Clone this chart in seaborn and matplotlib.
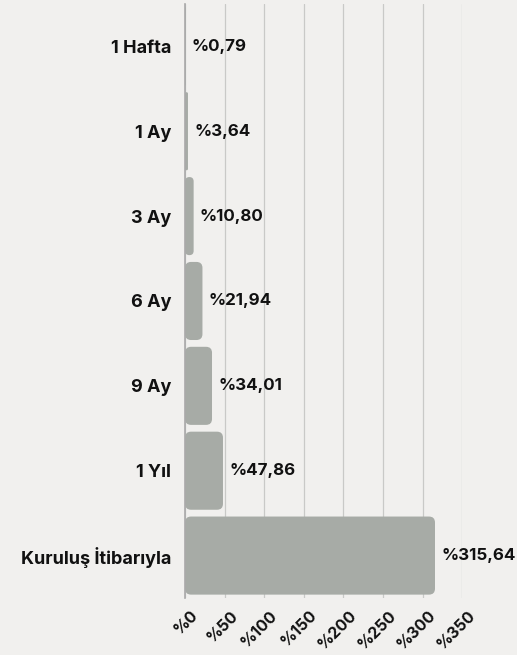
import numpy as np
import pandas as pd
import matplotlib
matplotlib.use("Agg")
import matplotlib.pyplot as plt
import matplotlib.transforms as mtransforms
import seaborn as sns
from matplotlib.patches import FancyBboxPatch

# --------------------------
# Data
# --------------------------
periods = ["1 Hafta", "1 Ay", "3 Ay", "6 Ay", "9 Ay", "1 Yıl", "Kuruluş İtibarıyla"]
returns = [0.79, 3.64, 10.80, 21.94, 34.01, 47.86, 315.64]
value_labels = ["%0,79", "%3,64", "%10,80", "%21,94", "%34,01", "%47,86", "%315,64"]
x_ticks = [0, 50, 100, 150, 200, 250, 300, 350]
x_tick_labels = ["%0", "%50", "%100", "%150", "%200", "%250", "%300", "%350"]

df = pd.DataFrame({"period": periods, "ret": returns})

bg = "#f1f0ee"
bar_color = "#a7aba6"

sns.set_theme(style="white")
plt.rcParams["font.family"] = ["Inter", "DejaVu Sans"]
plt.rcParams["font.weight"] = "bold"

fig = plt.figure(figsize=(5.17, 6.55), dpi=100, facecolor=bg)
ax = fig.add_axes([0.358, 0.087, 0.536, 0.907], facecolor=bg)

sns.barplot(data=df, x="ret", y="period", color=bar_color, width=0.92,
            saturation=1, ax=ax, zorder=2)

ax.set_xlim(0, 350)
ax.set_ylim(len(periods) - 0.5, -0.5)

# swap plain bars for rounded ones
# 1 x-unit ~ 0.79 px, 1 y-unit ~ 85 px
px_x = 0.536 * 517 / 350
px_y = 0.907 * 655 / len(periods)
aspect = px_x / px_y
for p in list(ax.patches):
    x0, y0 = p.get_x(), p.get_y()
    w, h = p.get_width(), p.get_height()
    r = min(6 / px_x, w / 2)
    fb = FancyBboxPatch((x0, y0), w, h,
                        boxstyle=f"round,pad=0,rounding_size={r}",
                        mutation_aspect=aspect,
                        facecolor=bar_color, edgecolor="none", zorder=2)
    p.remove()
    ax.add_patch(fb)

# value labels
for i, (v, lab) in enumerate(zip(returns, value_labels)):
    ax.annotate(lab, xy=(v, i), xytext=(4.5, 0), textcoords="offset points",
                ha="left", va="center", fontsize=12.2, fontweight="bold",
                color="#111111", zorder=3)

# grid & axes
ax.set_xticks(x_ticks)
ax.set_xticklabels(x_tick_labels, rotation=45, ha="right", rotation_mode="anchor",
                   fontsize=11.5, fontweight="bold", color="#111111")
ax.tick_params(axis="x", length=0, pad=7)
# nudge rotated tick labels to the right like the original
offset = mtransforms.ScaledTranslation(4 / 72, 0, fig.dpi_scale_trans)
for lab in ax.get_xticklabels():
    lab.set_transform(lab.get_transform() + offset)
ax.tick_params(axis="y", length=0, pad=10, labelsize=13, labelcolor="#111111")
for t in ax.get_yticklabels():
    t.set_fontweight("bold")
ax.xaxis.grid(True, color="#c9c9c7", linewidth=0.9, zorder=0)
ax.yaxis.grid(False)
for s in ["top", "right", "bottom"]:
    ax.spines[s].set_visible(False)
ax.spines["left"].set_color("#a9a9a9")
ax.spines["left"].set_linewidth(1.2)
ax.set_xlabel("")
ax.set_ylabel("")

fig.savefig("out.png", dpi=100, facecolor=bg)
